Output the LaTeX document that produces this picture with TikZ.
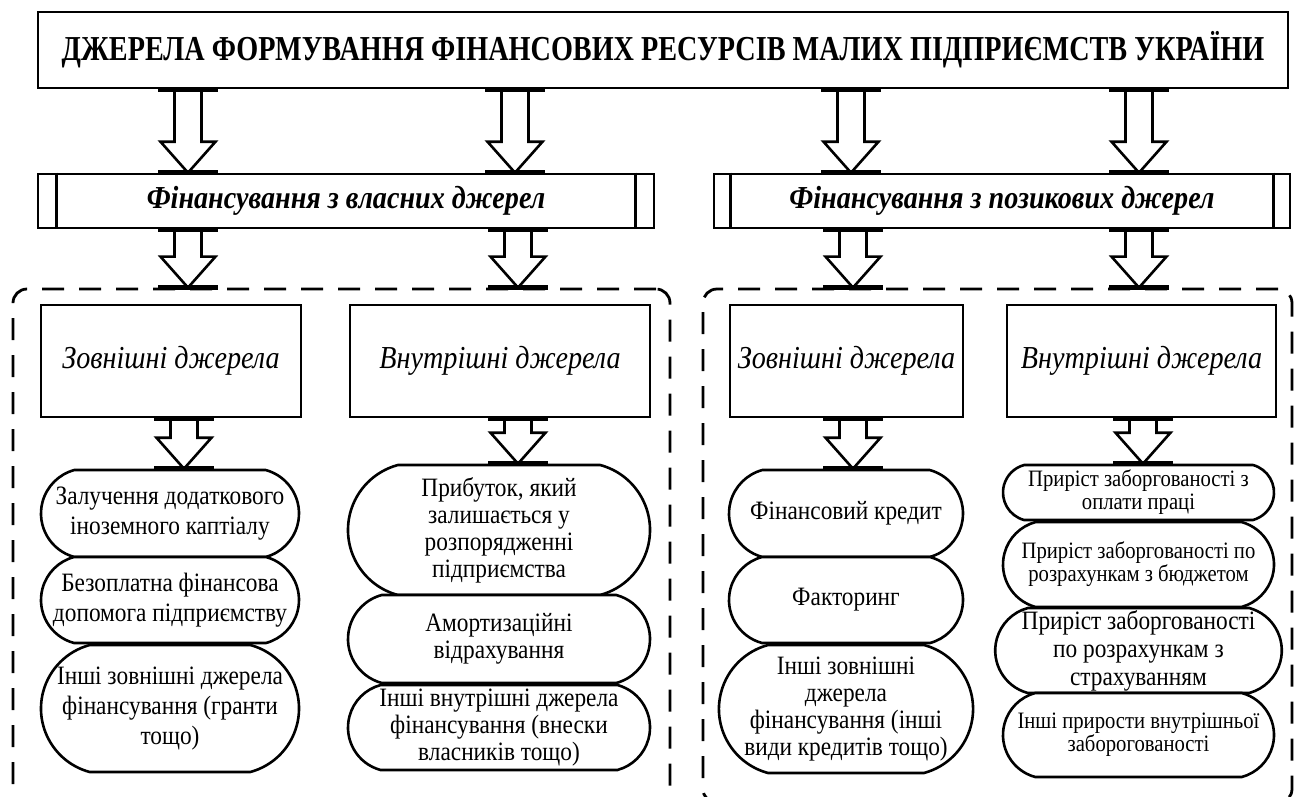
\documentclass[tikz,border=0pt]{standalone}
\usepackage{fontspec}
\setmainfont{Liberation Serif}[FakeStretch=0.88]
\newfontfamily\titlefont{Liberation Serif}[FakeStretch=0.806]
\usetikzlibrary{shapes.misc,calc}
\newcommand\blockarrow[3]{%
  \draw[blk] let \p1=(#1.south), \p2=(#2.north) in
   (#3pt-13.5pt,\y1) -- (#3pt-13.5pt,\y2+31pt) -- (#3pt-27.5pt,\y2+31pt) -- (#3pt,\y2)
   -- (#3pt+27.5pt,\y2+31pt) -- (#3pt+13.5pt,\y2+31pt) -- (#3pt+13.5pt,\y1);
  \draw[joint] let \p1=(#1.south), \p2=(#2.north) in
   (#3pt-30pt,\y1) -- (#3pt+30pt,\y1) (#3pt-30pt,\y2) -- (#3pt+30pt,\y2);
}
\begin{document}
\begin{tikzpicture}[x=1pt,y=-1pt,
  box/.style={draw, line width=2.6pt, fill=white, inner sep=2pt, align=center},
  titlebox/.style={box, font=\titlefont\fontsize{35}{40}\selectfont\bfseries},
  barbox/.style={box, font=\fontsize{32}{36}\selectfont\bfseries\itshape},
  srcbox/.style={box, font=\fontsize{32}{36}\selectfont\itshape},
  oval/.style={draw, line width=2.6pt, fill=white, rounded rectangle, rounded rectangle arc length=150, inner sep=0pt, align=center, font=\fontsize{26.5}{30}\selectfont},
  ovalM/.style={oval, font=\fontsize{26.5}{27}\selectfont},
  ovalF/.style={oval, font=\fontsize{23.5}{23}\selectfont},
  dashgroup/.style={draw, line width=2.8pt, dash pattern=on 22pt off 15pt, rounded corners=14pt, inner sep=0pt},
  blk/.style={draw, line width=2.6pt, line join=miter},
  joint/.style={line width=4.5pt},
  sep/.style={line width=2.6pt},
]
\useasboundingbox (0,0) rectangle (1294,796);
\fill[white] (0,0) rectangle (1294,796);

\node[titlebox, minimum width=1250pt, minimum height=76pt] (title) at (663,50)
  {ДЖЕРЕЛА ФОРМУВАННЯ ФІНАНСОВИХ РЕСУРСІВ МАЛИХ ПІДПРИЄМСТВ УКРАЇНИ};

\node[barbox, minimum width=616pt, minimum height=54pt] (bL) at (346,201) {Фінансування з власних джерел};
\node[barbox, minimum width=576pt, minimum height=54pt] (bR) at (1002,201) {Фінансування з позикових джерел};
\draw[sep] ([xshift=20pt]bL.north west) -- ([xshift=20pt]bL.south west);
\draw[sep] ([xshift=-20pt]bL.north east) -- ([xshift=-20pt]bL.south east);
\draw[sep] ([xshift=18pt]bR.north west) -- ([xshift=18pt]bR.south west);
\draw[sep] ([xshift=-18pt]bR.north east) -- ([xshift=-18pt]bR.south east);

\node[dashgroup, minimum width=657pt, minimum height=514pt] (gL) at (341.5,546) {};
\node[dashgroup, minimum width=589pt, minimum height=514pt] (gR) at (997.5,546) {};

\node[srcbox, minimum width=260pt, minimum height=112pt] (sL1) at (171,361) {Зовнішні джерела};
\node[srcbox, minimum width=300pt, minimum height=112pt] (sL2) at (500,361) {Внутрішні джерела};
\node[srcbox, minimum width=233pt, minimum height=112pt] (sR1) at (846.5,361) {Зовнішні джерела};
\node[srcbox, minimum width=269pt, minimum height=112pt] (sR2) at (1141.5,361) {Внутрішні джерела};

\node[oval, minimum width=258pt, minimum height=87pt] (L1) at (170,513.5) {Залучення додаткового\\іноземного каптіалу};
\node[oval, minimum width=258pt, minimum height=86pt] (L2) at (170,600) {Безоплатна фінансова\\допомога підприємству};
\node[oval, minimum width=258pt, minimum height=127pt] (L3) at (170,708.5) {Інші зовнішні джерела\\фінансування (гранти\\тощо)};

\node[ovalM, minimum width=302pt, minimum height=130pt] (M1) at (499,530) {Прибуток, який\\залишається у\\розпорядженні\\підприємства};
\node[ovalM, minimum width=302pt, minimum height=88pt] (M2) at (499,639) {Амортизаційні\\відрахування};
\node[ovalM, minimum width=302pt, minimum height=85pt] (M3) at (499,727.5) {Інші внутрішні джерела\\фінансування (внески\\власників тощо)};

\node[oval, minimum width=234pt, minimum height=87pt] (R1) at (846,513.5) {Фінансовий кредит};
\node[oval, minimum width=234pt, minimum height=86pt] (R2) at (846,600) {Факторинг};
\node[ovalM, minimum width=234pt, minimum height=128pt] (R3) at (846,709) {Інші зовнішні\\джерела\\фінансування (інші\\види кредитів тощо)};

\node[ovalF, minimum width=271pt, minimum height=55pt] (F1) at (1138.5,492.5) {Приріст заборгованості з\\оплати праці};
\node[ovalF, minimum width=271pt, minimum height=85pt] (F2) at (1138.5,564.5) {Приріст заборгованості по\\розрахункам з бюджетом};
\node[oval, font=\fontsize{26.5}{28}\selectfont, minimum width=271pt, minimum height=85pt] (F3) at (1138.5,650.5) {Приріст заборгованості\\по розрахункам з\\страхуванням};
\node[ovalF, minimum width=271pt, minimum height=84pt] (F4) at (1138.5,735) {Інші прирости внутрішньої\\заборогованості};

\blockarrow{title}{bL}{188}
\blockarrow{title}{bL}{515}
\blockarrow{title}{bR}{851}
\blockarrow{title}{bR}{1139}
\blockarrow{bL}{gL}{188}
\blockarrow{bL}{gL}{518}
\blockarrow{bR}{gR}{853}
\blockarrow{bR}{gR}{1139}
\blockarrow{sL1}{L1}{184}
\blockarrow{sL2}{M1}{518}
\blockarrow{sR1}{R1}{853}
\blockarrow{sR2}{F1}{1143}
\end{tikzpicture}
\end{document}
